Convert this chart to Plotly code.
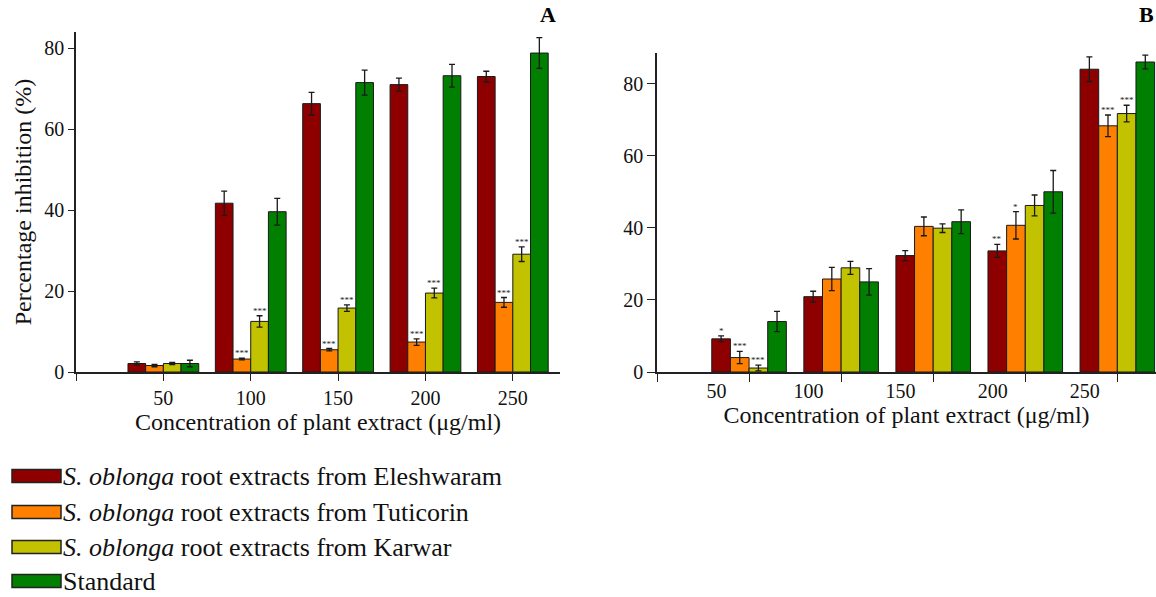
import plotly.graph_objects as go

# ---------------- data ----------------
concentrations = [50, 100, 150, 200, 250]
tick_labels = ["50", "100", "150", "200", "250"]
series_names = [
    "<i>S. oblonga</i> root extracts from Eleshwaram",
    "<i>S. oblonga</i> root extracts from Tuticorin",
    "<i>S. oblonga</i> root extracts from Karwar",
    "Standard",
]
colors = ["#8E0000", "#FF7F00", "#C2C200", "#007F00"]

# Panel A
a_eleshwaram = [2.1, 41.7, 66.3, 71.0, 73.0]
a_eleshwaram_err = [0.4, 3.0, 2.8, 1.6, 1.3]
a_tuticorin = [1.6, 3.2, 5.5, 7.4, 17.2]
a_tuticorin_err = [0.3, 0.2, 0.3, 0.8, 1.2]
a_karwar = [2.1, 12.5, 15.8, 19.5, 29.1]
a_karwar_err = [0.3, 1.4, 0.8, 1.2, 1.8]
a_standard = [2.1, 39.6, 71.5, 73.2, 78.8]
a_standard_err = [0.8, 3.3, 3.1, 2.8, 3.8]
a_sig_eleshwaram = ["", "", "", "", ""]
a_sig_tuticorin = ["", "***", "***", "***", "***"]
a_sig_karwar = ["", "***", "***", "***", "***"]
a_sig_standard = ["", "", "", "", ""]

# Panel B
b_eleshwaram = [9.2, 20.9, 32.3, 33.6, 84.0]
b_eleshwaram_err = [0.8, 1.5, 1.4, 1.8, 3.4]
b_tuticorin = [4.0, 25.8, 40.4, 40.7, 68.3]
b_tuticorin_err = [1.7, 3.2, 2.6, 3.8, 3.0]
b_karwar = [1.1, 28.9, 39.9, 46.2, 71.7]
b_karwar_err = [0.8, 1.8, 1.2, 2.9, 2.3]
b_standard = [14.0, 25.0, 41.7, 50.0, 86.0]
b_standard_err = [2.8, 3.7, 3.3, 5.9, 1.9]
b_sig_eleshwaram = ["*", "", "", "**", ""]
b_sig_tuticorin = ["***", "", "", "*", "***"]
b_sig_karwar = ["***", "", "", "", "***"]
b_sig_standard = ["", "", "", "", ""]

x_title = "Concentration of plant extract (μg/ml)"
y_title = "Percentage inhibition (%)"

# ---------------- figure ----------------
FONT = "Liberation Serif"
W, H = 1156, 597
bargap = 0.19
barw = 50 * (1 - bargap) / 4

panels = [
    ("x", "y",
     [a_eleshwaram, a_tuticorin, a_karwar, a_standard],
     [a_eleshwaram_err, a_tuticorin_err, a_karwar_err, a_standard_err],
     [a_sig_eleshwaram, a_sig_tuticorin, a_sig_karwar, a_sig_standard]),
    ("x2", "y2",
     [b_eleshwaram, b_tuticorin, b_karwar, b_standard],
     [b_eleshwaram_err, b_tuticorin_err, b_karwar_err, b_standard_err],
     [b_sig_eleshwaram, b_sig_tuticorin, b_sig_karwar, b_sig_standard]),
]

fig = go.Figure()
annotations = []
for xa, ya, vals, errs, sigs in panels:
    for i in range(4):
        fig.add_trace(go.Bar(
            x=concentrations, y=vals[i], name=series_names[i],
            xaxis=xa, yaxis=ya, showlegend=False,
            marker=dict(color=colors[i], line=dict(color="#1a1a1a", width=1)),
            error_y=dict(type="data", array=errs[i], color="#1a1a1a",
                         thickness=1.3, width=3),
        ))
        for j, c in enumerate(concentrations):
            if sigs[i][j]:
                annotations.append(dict(
                    x=c + (i - 1.5) * barw, y=vals[i][j] + errs[i][j],
                    xref=xa, yref=ya, text=sigs[i][j], showarrow=False,
                    yanchor="bottom", yshift=-2,
                    font=dict(family=FONT, size=9, color="#222"),
                ))

def px_x(p):
    return p / W

def px_y(p):
    return 1 - p / H

axis_common = dict(
    showline=True, linecolor="#222", linewidth=1.5, showgrid=False,
    zeroline=False, ticks="outside", tickcolor="#222", tickwidth=1.2,
    tickfont=dict(family=FONT, size=20, color="#111"), automargin=False,
)

fig.update_layout(
    width=W, height=H,
    margin=dict(l=0, r=0, t=0, b=0),
    paper_bgcolor="white", plot_bgcolor="white",
    barmode="group", bargap=bargap, bargroupgap=0,
    xaxis=dict(
        axis_common, domain=[px_x(76), px_x(560)], range=[0, 277],
        tickmode="array", tickvals=[0] + concentrations,
        ticktext=[""] + tick_labels, ticklen=7, anchor="y",
        title=dict(text=x_title, standoff=2,
                   font=dict(family=FONT, size=24, color="#111")),
    ),
    yaxis=dict(
        axis_common, domain=[px_y(372), px_y(32)], range=[0, 84],
        tickmode="array", tickvals=[0, 20, 40, 60, 80], ticklen=6,
        anchor="x",
        title=dict(text=y_title, standoff=6,
                   font=dict(family=FONT, size=24, color="#111")),
    ),
    xaxis2=dict(
        axis_common, domain=[px_x(657), 1.0], range=[0, 271],
        tickmode="array",
        tickvals=[c - 1.75 * barw for c in concentrations],
        ticktext=tick_labels, ticks="", anchor="y2",
        minor=dict(tickmode="array", tickvals=[0] + concentrations,
                   ticks="outside", ticklen=8, tickcolor="#222",
                   tickwidth=1.2, showgrid=False),
        title=dict(text=x_title, standoff=2,
                   font=dict(family=FONT, size=24, color="#111")),
    ),
    yaxis2=dict(
        axis_common, domain=[px_y(372), px_y(53)], range=[0, 88.5],
        tickmode="array", tickvals=[0, 20, 40, 60, 80], ticklen=8,
        anchor="x2",
    ),
)

# panel letters
annotations.append(dict(x=px_x(548), y=1.0, xref="paper", yref="paper",
                        xanchor="center", yanchor="top",
                        text="<b>A</b>", showarrow=False,
                        font=dict(family=FONT, size=22, color="#000")))
annotations.append(dict(x=1.0, y=1.0, xref="paper", yref="paper",
                        xanchor="right", yanchor="top",
                        text="<b>B</b>", showarrow=False,
                        font=dict(family=FONT, size=22, color="#000")))

# custom legend with wide swatches
legend_rows_px = [476, 512, 547, 581]
shapes = []
for name, col, yc in zip(series_names, colors, legend_rows_px):
    shapes.append(dict(type="rect", xref="paper", yref="paper",
                       x0=px_x(12), x1=px_x(61),
                       y0=px_y(yc + 6.5), y1=px_y(yc - 6.5),
                       fillcolor=col, line=dict(color="#222", width=1.5)))
    annotations.append(dict(x=px_x(61), y=px_y(yc), xref="paper", yref="paper",
                            xanchor="left", yanchor="middle", text=name,
                            showarrow=False,
                            font=dict(family=FONT, size=26, color="#111")))

fig.update_layout(annotations=annotations, shapes=shapes)
fig.write_html("out.html",
               config={"displayModeBar": False},
               post_script="document.body.style.margin='0';")
